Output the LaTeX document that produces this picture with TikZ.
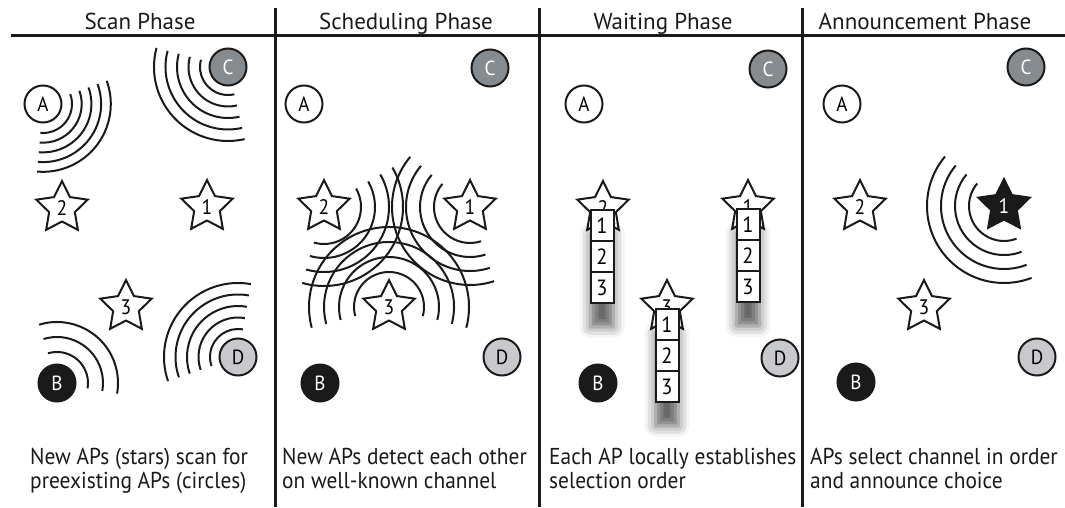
\documentclass[tikz,border=0pt]{standalone}
\usepackage{fontspec}
\setmainfont{PT Sans}
\newfontfamily\capfont{PT Sans}[FakeStretch=0.93]
\usetikzlibrary{shapes.geometric,shadows.blur}
\definecolor{apgray}{HTML}{868B90}
\definecolor{aplight}{HTML}{C7C9CD}
\definecolor{apblack}{HTML}{1A1A1A}

\begin{document}
\begin{tikzpicture}[x=1pt,y=1pt,
  every node/.style={inner sep=0pt},
  rule/.style={line width=3pt, draw=apblack},
  ap/.style={circle, draw=apblack, line width=2pt, minimum size=37pt,
    font=\capfont\fontsize{20.5}{20}\selectfont},
  apA/.style={ap, fill=white},
  apB/.style={ap, fill=apblack, text=white},
  apC/.style={ap, fill=apgray, text=white},
  apD/.style={ap, fill=aplight},
  newap/.style={star, star points=5, star point ratio=2, minimum size=54pt,
    draw=apblack, line width=2pt, fill=white, font=\capfont\fontsize{21}{21}\selectfont},
  chosen/.style={newap, fill=apblack, text=white},
  wave/.style={line width=2pt, draw=apblack},
  stackbg/.style={rectangle, fill=white, minimum width=23pt, minimum height=93pt,
    outer sep=0pt, anchor=north,
    blur shadow={shadow xshift=0pt, shadow yshift=-24pt, shadow blur radius=11pt, shadow opacity=62}},
  slot/.style={rectangle, draw=apblack, line width=2pt, fill=white, outer sep=0pt,
    minimum width=23pt, minimum height=31pt, anchor=north,
    font=\capfont\fontsize{22}{22}\selectfont},
  head/.style={anchor=base, font=\fontsize{23}{24}\selectfont, text=apblack},
  caption/.style={anchor=base west, font=\capfont\fontsize{23}{24}\selectfont, text=apblack}
]
\useasboundingbox (0,0) rectangle (1065,507);

% ---------- frame: header rule and panel dividers ----------
\coordinate (hl) at (11,471);
\coordinate (hr) at (1065,471);
\draw[rule] (hl) -- (hr);
\foreach \x [count=\i] in {275,539,802} {
  \coordinate (dt\i) at (\x,499);
  \coordinate (db\i) at (\x,0);
  \draw[rule] (dt\i) -- (db\i);
}

% ---------- headers ----------
\node[head] (h1) at (140,477) {Scan Phase};
\node[head] (h2) at (406,477) {Scheduling Phase};
\node[head] (h3) at (663,477) {Waiting Phase};
\node[head] (h4) at (925,477) {Announcement Phase};

% ---------- captions ----------
\node[caption] (c1a) at (30,43) {New APs (stars) scan for};
\node[caption] (c1b) at (30,19) {preexisting APs (circles)};
\node[caption] (c2a) at (282,43) {New APs detect each other};
\node[caption] (c2b) at (282,19) {on well-known channel};
\node[caption] (c3a) at (549,43) {Each AP locally establishes};
\node[caption] (c3b) at (549,19) {selection order};
\node[caption] (c4a) at (810,43) {APs select channel in order};
\node[caption] (c4b) at (810,19) {and announce choice};

% ================= Scan Phase =================
\node[apA] (p1A) at (43,403) {A};
\node[apC] (p1C) at (228,440) {C};
\node[apB] (p1B) at (57,124) {B};
\node[apD] (p1D) at (238,150) {D};
\foreach \r in {29,38.7,48.4,58.1,67.8}
  \draw[wave] ([shift={(20:\r pt)}]p1A.center) arc[start angle=20, end angle=-95, radius=\r pt];
\foreach \r in {28,39.5,51,62.5,74}
  \draw[wave] ([shift={(165:\r pt)}]p1C.center) arc[start angle=165, end angle=283, radius=\r pt];
\foreach \r in {31,46,61}
  \draw[wave] ([shift={(107:\r pt)}]p1B.center) arc[start angle=107, end angle=-10, radius=\r pt];
\foreach \r in {28,39.5,51,62.5,74}
  \draw[wave] ([shift={(80:\r pt)}]p1D.center) arc[start angle=80, end angle=199, radius=\r pt];
\node[newap] (p1s2) at (62,299) {2};
\node[newap] (p1s1) at (207,300) {1};
\node[newap] (p1s3) at (126,200) {3};

% ================= Scheduling Phase =================
\node[apA] (p2A) at (304,403) {A};
\node[apC] (p2C) at (490,439) {C};
\node[apB] (p2B) at (320,124) {B};
\node[apD] (p2D) at (502,150) {D};
\coordinate (p2c2) at (324,300);
\coordinate (p2c1) at (470,300);
\coordinate (p2c3) at (389,200);
\foreach \r in {37,51,65,79}
  \draw[wave] ([shift={(30:\r pt)}]p2c2) arc[start angle=30, end angle=-106, radius=\r pt];
\foreach \r in {36,50,64,78}
  \draw[wave] ([shift={(140:\r pt)}]p2c1) arc[start angle=140, end angle=288, radius=\r pt];
\foreach \r in {35,50,65,80}
  \draw[wave] ([shift={(-15:\r pt)}]p2c3) arc[start angle=-15, end angle=195, radius=\r pt];
\node[newap] (p2s2) at (p2c2) {2};
\node[newap] (p2s1) at (p2c1) {1};
\node[newap] (p2s3) at (p2c3) {3};

% ================= Waiting Phase =================
\node[apA] (p3A) at (584,403) {A};
\node[apC] (p3C) at (768,438) {C};
\node[apB] (p3B) at (598,124) {B};
\node[apD] (p3D) at (780,149) {D};
\node[newap] (p3s2) at (603,299) {2};
\node[newap] (p3s1) at (748,300) {1};
\node[newap] (p3s3) at (667,200) {3};
% each AP's ordered list of slots, with its drop shadow
\foreach \s/\x/\y in {2/602/297, 1/748/298, 3/667/198} {
  \node[stackbg] (q\s) at (\x,\y) {};
  \node[slot] (q\s a) at (q\s.north) {1};
  \node[slot] (q\s b) at (q\s a.south) {2};
  \node[slot] (q\s c) at (q\s b.south) {3};
}

% ================= Announcement Phase =================
\node[apA] (p4A) at (842,403) {A};
\node[apC] (p4C) at (1026,440) {C};
\node[apB] (p4B) at (856,125) {B};
\node[apD] (p4D) at (1037,150) {D};
\coordinate (p4c1) at (1004,301);
\foreach \r in {35,49,63,77}
  \draw[wave] ([shift={(140:\r pt)}]p4c1) arc[start angle=140, end angle=291, radius=\r pt];
\node[newap] (p4s2) at (860,300) {2};
\node[chosen] (p4s1) at (p4c1) {1};
\node[newap] (p4s3) at (924,200) {3};
\end{tikzpicture}
\end{document}
